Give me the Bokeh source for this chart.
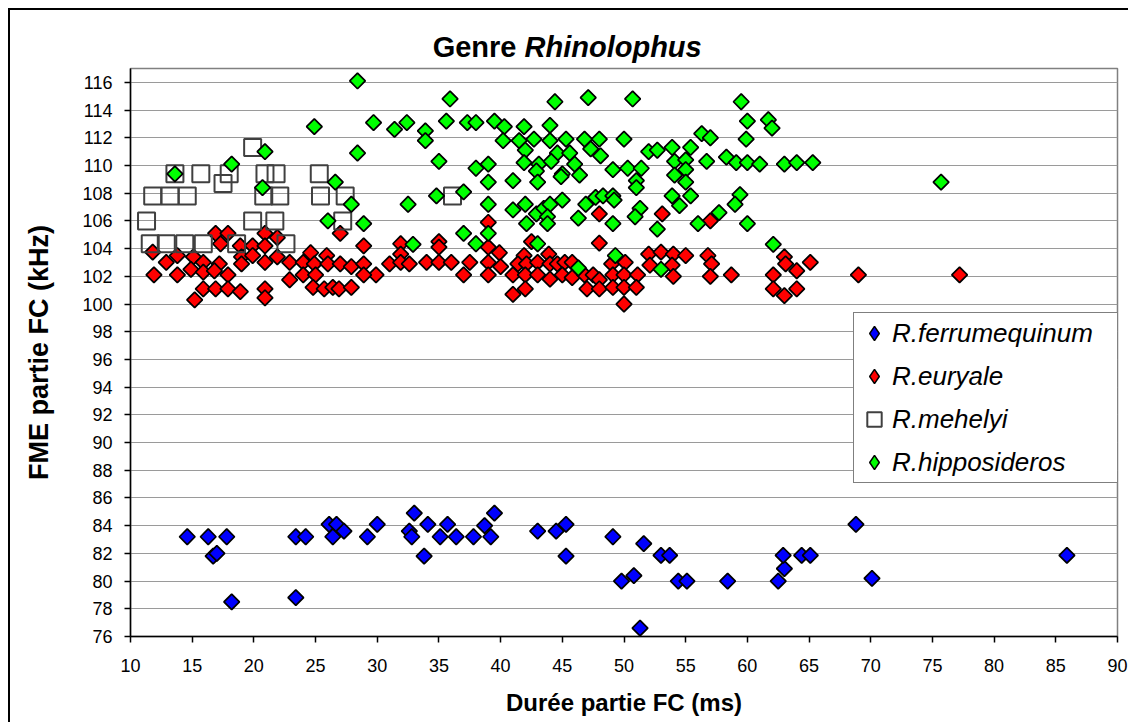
import math
from bokeh.plotting import figure
from bokeh.layouts import column
from bokeh.models import Range1d, FixedTicker, Legend, LegendItem
from bokeh.core.properties import value
from bokeh.embed import file_html
from bokeh.resources import INLINE

# ---------------- data ----------------
ferr_x = [14.6, 16.3, 16.7, 17.0, 17.8, 18.2, 23.4, 24.2, 23.4, 26.1, 26.7, 26.4, 27.3, 29.2, 30.0,
          33.0, 32.6, 32.8, 34.1, 33.8, 35.1, 35.7, 36.4, 37.8, 38.7, 39.2, 39.5, 43.0, 44.5, 45.3,
          45.3, 49.1, 49.8, 50.8, 51.6, 51.3, 53.0, 53.7, 54.4, 55.1, 58.4, 62.5, 63.0, 62.9, 64.4,
          65.1, 68.8, 70.1, 85.9]
ferr_y = [83.2, 83.2, 81.8, 82.0, 83.2, 78.5, 83.2, 83.2, 78.8, 84.1, 84.1, 83.2, 83.6, 83.2, 84.1,
          84.9, 83.6, 83.2, 84.1, 81.8, 83.2, 84.1, 83.2, 83.2, 84.0, 83.2, 84.9, 83.6, 83.6, 84.1,
          81.8, 83.2, 80.0, 80.4, 82.7, 76.6, 81.85, 81.85, 80.0, 80.0, 80.0, 80.0, 80.9, 81.85, 81.85,
          81.85, 84.1, 80.2, 81.85]

eury_x = [16.9, 17.9, 20.9, 21.9, 27.0, 28.9, 17.3, 18.9, 19.9, 20.9, 11.8, 13.8, 15.1, 19.0, 19.9,
          21.9, 24.6, 25.9, 12.9, 15.9, 17.2, 19.0, 20.9, 22.9, 24.0, 24.9, 26.0, 27.0, 27.9, 28.9,
          29.9, 14.9, 15.9, 16.8, 17.9, 11.9, 13.8, 22.9, 24.0, 25.0, 28.9, 15.9, 16.9, 17.9, 18.9,
          20.9, 24.8, 25.7, 26.4, 26.9, 27.9, 15.2, 20.9,
          39.0, 48.0, 48.0, 31.9, 35.0, 31.9, 35.0, 39.0, 39.9, 42.5, 43.9, 41.9, 31.0, 31.9, 32.6,
          34.0, 35.0, 36.0, 37.5, 39.0, 40.0, 41.4, 42.1, 43.0, 44.0, 44.6, 45.2, 45.8, 49.0, 37.0,
          39.0, 41.0, 42.0, 43.0, 44.0, 45.0, 45.8, 46.8, 47.5, 48.0, 47.0, 48.0, 41.0, 42.0,
          53.1, 57.0, 52.0, 53.0, 54.0, 55.0, 56.8, 57.1, 63.0, 65.1, 50.1, 52.1, 53.9, 63.1, 64.0,
          49.1, 50.0, 51.1, 54.0, 57.0, 58.7, 62.1, 69.0, 49.1, 50.0, 51.0, 62.1, 64.0, 63.0, 50.0,
          77.2]
eury_y = [105.1, 105.1, 105.1, 104.8, 105.1, 104.2, 104.35, 104.2, 104.2, 104.2, 103.75, 103.5, 103.4, 103.4, 103.5,
          103.4, 103.7, 103.5, 103.0, 103.0, 102.9, 102.9, 103.0, 103.0, 103.0, 102.9, 102.9, 102.9, 102.7, 102.9,
          102.1, 102.5, 102.3, 102.4, 102.1, 102.1, 102.1, 101.75, 102.1, 102.1, 102.1, 101.1, 101.1, 101.1, 100.9,
          101.1, 101.2, 101.1, 101.2, 101.1, 101.2, 100.3, 100.45,
          105.9, 106.5, 104.4, 104.35, 104.5, 103.6, 104.1, 104.1, 103.7, 104.5, 103.6, 103.5, 102.9, 103.0, 102.9,
          103.0, 103.0, 103.0, 103.0, 103.0, 102.7, 102.9, 102.9, 103.0, 102.9, 102.9, 103.0, 103.0, 102.9, 102.1,
          102.1, 102.1, 102.1, 102.1, 101.8, 102.1, 101.9, 102.1, 102.1, 101.75, 101.1, 101.1, 100.7, 101.1,
          106.5, 106.0, 103.6, 103.75, 103.6, 103.5, 103.5, 102.9, 103.4, 103.0, 103.0, 102.8, 102.8, 102.9, 102.4,
          102.1, 102.1, 102.1, 102.0, 102.0, 102.1, 102.1, 102.1, 101.2, 101.2, 101.2, 101.1, 101.1, 100.6, 100.0,
          102.1]

meh_x = [13.6, 15.7, 17.5, 18.0, 19.9, 20.9, 21.8, 25.3, 11.8, 13.2, 14.6, 20.8, 22.1, 25.4, 27.4,
         11.3, 19.9, 21.7, 27.2, 11.6, 12.9, 14.4, 15.9, 18.6, 22.6, 36.1]
meh_y = [109.4, 109.4, 108.7, 109.4, 111.3, 109.4, 109.4, 109.4, 107.8, 107.8, 107.8, 107.8, 107.8, 107.8, 107.8,
         106.0, 106.0, 106.0, 106.0, 104.35, 104.35, 104.35, 104.35, 104.35, 104.35, 107.8]

hipp_x = [13.6, 18.2, 20.9, 20.7, 24.9, 28.4, 29.7, 28.4, 26.6, 27.9, 26.0, 28.9,
          35.9, 44.4, 47.1, 31.4, 32.4, 33.9, 33.9, 35.6, 37.3, 38.0, 39.5, 40.3, 41.9, 44.0, 40.2,
          41.5, 42.7, 44.0, 45.3, 46.8, 48.0, 42.0, 44.6, 45.6, 47.3, 48.1, 35.0, 38.0, 39.0, 41.9,
          43.1, 44.1, 46.0, 42.9, 39.0, 41.0, 43.0, 45.0, 44.9, 46.4, 34.8, 37.0, 32.5, 39.0, 41.0,
          42.0, 42.9, 43.5, 44.0, 45.0, 43.8, 43.8, 42.1, 46.9, 47.7, 48.3, 46.3, 37.0, 39.0, 32.9,
          38.0, 43.0, 46.3,
          50.7, 59.5, 60.0, 61.7, 62.0, 50.0, 56.3, 57.0, 59.9, 52.0, 52.7, 53.9, 55.4, 54.1, 55.0,
          56.7, 58.3, 59.1, 60.0, 61.0, 63.0, 64.0, 65.3, 49.1, 50.3, 51.4, 54.1, 55.0, 51.0, 51.0,
          55.0, 49.1, 49.2, 53.9, 55.4, 54.5, 59.4, 59.0, 51.3, 50.9, 57.7, 49.1, 56.0, 60.0, 52.7,
          62.1, 49.3, 53.0, 75.7]
hipp_y = [109.4, 110.1, 111.0, 108.4, 112.8, 116.1, 113.1, 110.9, 108.8, 107.2, 106.0, 105.8,
          114.8, 114.6, 114.9, 112.6, 113.1, 112.5, 111.8, 113.2, 113.1, 113.1, 113.2, 112.8, 112.8, 112.9, 111.8,
          111.8, 111.9, 111.8, 111.9, 111.9, 111.9, 111.1, 110.9, 110.9, 111.2, 110.7, 110.3, 109.8, 110.1, 110.2,
          110.1, 110.3, 110.1, 109.6, 108.8, 108.9, 108.8, 109.4, 109.2, 109.3, 107.8, 108.1, 107.2, 107.2, 106.8,
          107.2, 106.5, 106.9, 107.2, 107.5, 106.3, 105.8, 105.8, 107.2, 107.7, 107.8, 106.2, 105.1, 105.1, 104.3,
          104.35, 104.35, 102.6,
          114.8, 114.6, 113.2, 113.3, 112.7, 111.9, 112.3, 112.0, 111.9, 111.0, 111.1, 111.3, 111.3, 110.3, 110.4,
          110.3, 110.6, 110.2, 110.2, 110.1, 110.1, 110.2, 110.2, 109.7, 109.8, 109.8, 109.3, 109.7, 108.9, 108.4,
          108.8, 107.8, 107.5, 107.8, 107.8, 107.1, 107.9, 107.2, 106.9, 106.3, 106.6, 105.8, 105.8, 105.8, 105.4,
          104.3, 103.5, 102.5, 108.8]

x_ticks = list(range(10, 91, 5))
y_ticks = list(range(76, 117, 2))

title_plain = "Genre"
title_italic = "Rhinolophus"
x_title = "Durée partie FC (ms)"
y_title = "FME partie FC (kHz)"
labels = ["R.ferrumequinum", "R.euryale", "R.mehelyi", "R.hipposideros"]
colors = ["#0000ff", "#ff0000", None, "#00ff00"]
nan = float("nan")

FONT = "Liberation Sans"
OFF = 10            # outer frame: 8px offset + 2px black border (top/left)
W = 1128 - OFF
TITLE_H = 66 - OFF
MAIN_H = 656
FRAME_L, FRAME_R = 130, 1117   # page pixel columns of the plot area

# ---------------- title strip (its frame is aligned with the chart's plot area) ----------------
tfig = figure(width=W, height=TITLE_H, output_backend="svg", toolbar_location=None,
              x_range=Range1d(FRAME_L, FRAME_R), y_range=Range1d(0, TITLE_H),
              x_axis_location=None, y_axis_location=None,
              min_border_left=FRAME_L - OFF, min_border_right=1128 - FRAME_R,
              min_border_top=0, min_border_bottom=0,
              outline_line_color=None, background_fill_color="white",
              border_fill_color="white")
tfig.grid.visible = False
tfig.text(x=[516], y=[66 - 46], text=[title_plain], text_font=value(FONT),
          text_font_style="bold", text_font_size="29px", text_align="right",
          text_baseline="alphabetic", text_color="black")
tfig.text(x=[524], y=[66 - 46], text=[title_italic], text_font=value(FONT),
          text_font_style="bold italic", text_font_size="29px", text_align="left",
          text_baseline="alphabetic", text_color="black")

# ---------------- main chart ----------------
p = figure(width=W, height=MAIN_H, output_backend="svg", toolbar_location=None,
           x_range=Range1d(10, 90), y_range=Range1d(76, 117),
           min_border_left=FRAME_L - OFF, min_border_right=1128 - FRAME_R,
           min_border_top=2, min_border_bottom=86,
           background_fill_color="white", border_fill_color="white")

p.outline_line_color = "#808080"
p.outline_line_width = 1.5

p.xgrid.visible = False
p.ygrid.grid_line_color = "#9a9a9a"
p.ygrid.grid_line_width = 1

p.xaxis.ticker = FixedTicker(ticks=x_ticks)
p.yaxis.ticker = FixedTicker(ticks=y_ticks)
for ax in (p.xaxis[0], p.yaxis[0]):
    ax.axis_line_color = "black"
    ax.axis_line_width = 1.5
    ax.major_tick_line_color = "black"
    ax.major_tick_line_width = 1.5
    ax.major_tick_out = 6
    ax.major_tick_in = 0
    ax.minor_tick_line_color = None
    ax.major_label_text_font = FONT
    ax.major_label_text_font_size = "18px"
    ax.major_label_text_color = "black"
    ax.axis_label_text_font = FONT
    ax.axis_label_text_font_style = "bold"
    ax.axis_label_text_color = "black"

p.xaxis.axis_label = x_title
p.xaxis.axis_label_text_font_size = "24px"
p.xaxis.major_label_standoff = 16
p.xaxis.axis_label_standoff = 14

p.yaxis.axis_label = y_title
p.yaxis.axis_label_text_font_size = "27px"
p.yaxis.major_label_standoff = 12
p.yaxis.axis_label_standoff = 25

# series (drawn in the reference's order)
diamond = dict(marker="square", angle=math.pi / 4, size=11, line_color="black", line_width=1.75)
r1 = p.scatter(ferr_x, ferr_y, fill_color=colors[0], **diamond)
r2 = p.scatter(eury_x, eury_y, fill_color=colors[1], **diamond)
r3 = p.scatter(meh_x, meh_y, marker="square", size=17, fill_color=None,
               line_color="#404040", line_width=2)
r4 = p.scatter(hipp_x, hipp_y, fill_color=colors[3], **diamond)

# legend-only glyphs (not drawn in the plot: NaN position), diamond swatches
lg = dict(marker="diamond", line_color="black", line_width=1.5)
k1 = p.scatter([nan], [nan], fill_color=colors[0], **lg)
k2 = p.scatter([nan], [nan], fill_color=colors[1], **lg)
k4 = p.scatter([nan], [nan], fill_color=colors[3], **lg)

legend = Legend(items=[LegendItem(label=labels[0], renderers=[k1]),
                       LegendItem(label=labels[1], renderers=[k2]),
                       LegendItem(label=labels[2], renderers=[r3]),
                       LegendItem(label=labels[3], renderers=[k4])],
                location=(723, 153), margin=0, padding=2, spacing=7,
                glyph_width=36, glyph_height=36, label_height=30, label_width=240,
                label_standoff=0,
                label_text_font=FONT, label_text_font_style="italic",
                label_text_font_size="26px", label_text_color="black",
                border_line_color="black", border_line_width=1,
                background_fill_color="white", background_fill_alpha=1.0)
p.add_layout(legend)

layout = column(tfig, p, spacing=0)
layout.styles = {"margin-left": "8px", "margin-top": "8px",
                 "border-left": "2px solid black", "border-top": "2px solid black"}
open("out.html", "w").write(file_html(layout, INLINE))
